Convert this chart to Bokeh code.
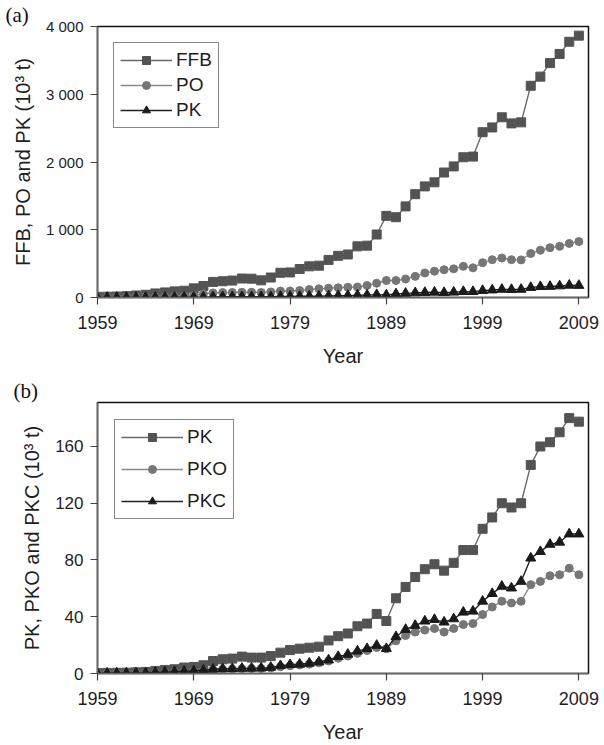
from bokeh.plotting import figure
from bokeh.layouts import column
from bokeh.models import Range1d, FixedTicker
from bokeh.embed import file_html
from bokeh.resources import INLINE

years = list(range(1959, 2010))

ffb = [10, 12, 15, 20, 30, 40, 60, 75, 90, 100, 135, 170, 230, 240, 250, 280, 278, 253, 295, 365,
       370, 420, 460, 470, 555, 615, 635, 755, 765, 930, 1205, 1185, 1345, 1525, 1640, 1700, 1845,
       1935, 2070, 2080, 2440, 2510, 2660, 2570, 2585, 3125, 3260, 3460, 3595, 3775, 3865]
po = [2, 3, 4, 5, 6, 8, 10, 14, 18, 22, 30, 55, 68, 72, 74, 76, 78, 74, 82, 95,
      96, 103, 118, 128, 138, 143, 152, 155, 177, 211, 251, 251, 273, 312, 362, 388, 410,
      423, 460, 438, 514, 558, 583, 558, 555, 649, 698, 735, 755, 798, 826]
pk = [0.3, 0.4, 0.5, 0.6, 0.8, 1.1, 1.8, 2.5, 3.0, 4.2, 4.6, 5.8, 8.8, 10.0, 10.5, 11.9, 11.2, 11.2,
      12.3, 14.7, 16.5, 17.5, 18.2, 18.9, 23.3, 26.3, 28.2, 33.3, 35.2, 42.0, 37.0, 53.0, 61.0,
      68.0, 73.5, 77.0, 72.5, 78.0, 87.0, 87.0, 102.0, 110.0, 120.0, 117.0, 120.0, 147.0, 160.0,
      163.0, 170.0, 180.0, 177.5]
pko = [0.1, 0.15, 0.2, 0.25, 0.3, 0.4, 0.6, 0.8, 1.0, 1.3, 1.6, 2.0, 2.8, 3.0, 3.1, 3.4, 3.5, 3.5,
       3.9, 4.8, 5.5, 6.0, 6.6, 7.5, 8.8, 10.8, 12.3, 14.2, 16.2, 18.3, 17.4, 23.0, 26.8, 29.2,
       30.6, 31.7, 29.2, 31.7, 34.5, 35.2, 41.5, 46.9, 50.9, 49.7, 50.9, 62.6, 64.9, 68.9, 69.6,
       74.2, 69.6]
pkc = [0.2, 0.2, 0.3, 0.3, 0.4, 0.5, 0.8, 1.0, 1.2, 1.5, 1.8, 2.3, 3.0, 3.3, 3.4, 3.6, 3.7, 3.8,
       4.3, 5.5, 6.2, 6.5, 7.2, 8.1, 9.5, 11.9, 13.5, 15.8, 17.5, 19.8, 17.5, 25.9, 31.0, 33.8,
       36.9, 38.0, 36.2, 38.5, 43.2, 43.9, 50.9, 56.3, 61.4, 60.2, 64.9, 81.3, 85.9, 91.0, 92.5,
       98.3, 98.3]

x_ticks = [1959, 1969, 1979, 1989, 1999, 2009]
a_ticks = [0, 1000, 2000, 3000, 4000]
a_tick_labels = ["0", "1 000", "2 000", "3 000", "4 000"]
b_ticks = [0, 40, 80, 120, 160]

FONT = "Liberation Sans"
SQ_COL = "#535353"
CI_COL = "#767676"
TR_COL = "#1a1a1a"


def style(p, yfont):
    p.grid.visible = False
    p.outline_line_color = "#111111"
    p.outline_line_width = 1.5
    for ax in (p.xaxis[0], p.yaxis[0]):
        ax.axis_line_color = "#666666"
        ax.axis_line_width = 1.5
        ax.major_tick_line_color = "#444444"
        ax.major_tick_line_width = 1.2
        ax.major_tick_in = 0
        ax.major_tick_out = 7
        ax.minor_tick_line_color = None
        ax.major_label_text_font = FONT
        ax.major_label_text_color = "#1e1e1e"
        ax.axis_label_text_font = FONT
        ax.axis_label_text_font_style = "normal"
        ax.axis_label_text_color = "#1e1e1e"
        ax.axis_label_text_font_size = "20px"
    p.xaxis.major_label_text_font_size = "18px"
    p.yaxis.major_label_text_font_size = yfont
    p.xaxis.major_label_standoff = 11
    p.yaxis.major_label_standoff = 7
    p.xaxis.axis_label_standoff = 13
    p.yaxis.axis_label_standoff = 9
    p.xaxis.ticker = FixedTicker(ticks=x_ticks)


def set_title(p, text, offset):
    p.title.text = text
    p.title.align = "left"
    p.title.offset = offset
    p.title.standoff = 0
    p.title.text_font = "Liberation Serif"
    p.title.text_font_size = "21px"
    p.title.text_font_style = "normal"
    p.title.text_color = "#111111"


def add_series(p, y, label, marker, size, col, lcol):
    p.line(years, y, line_color=lcol, line_width=1.4, legend_label=label)
    p.scatter(years, y, marker=marker, size=size, fill_color=col, line_color=col,
              legend_label=label)


def style_legend(p, spacing, margin, gw):
    lg = p.legend[0]
    lg.location = "top_left"
    lg.margin = margin
    lg.padding = 6
    lg.spacing = spacing
    lg.glyph_width = gw
    lg.glyph_height = 20
    lg.label_height = 20
    lg.label_standoff = 4
    lg.label_text_font = FONT
    lg.label_text_font_size = "19px"
    lg.label_text_color = "#1e1e1e"
    lg.border_line_color = "#111111"
    lg.border_line_width = 1.5
    lg.background_fill_alpha = 1.0


# ---------- panel (a)
pa = figure(width=604, height=370, output_backend="svg", toolbar_location=None,
            x_range=Range1d(1959, 2010), y_range=Range1d(0, 4000),
            min_border_left=97, min_border_right=16, min_border_top=25, min_border_bottom=73)
style(pa, "15px")
set_title(pa, "(a)", -92)
pa.yaxis.ticker = FixedTicker(ticks=a_ticks)
pa.yaxis.major_label_overrides = {t: s for t, s in zip(a_ticks, a_tick_labels)}
pa.xaxis.axis_label = "Year"
pa.yaxis.axis_label = "FFB, PO and PK (10³ t)"
add_series(pa, ffb, "FFB", "square", 9, SQ_COL, "#6a6a6a")
add_series(pa, po, "PO", "circle", 8, CI_COL, "#8a8a8a")
add_series(pa, pk, "PK", "triangle", 10, TR_COL, "#222222")
style_legend(pa, 3, 16, 52)

# ---------- panel (b)
pb = figure(width=604, height=375, output_backend="svg", toolbar_location=None,
            x_range=Range1d(1959, 2010), y_range=Range1d(0, 191),
            min_border_left=89, min_border_right=12, min_border_top=32, min_border_bottom=71)
style(pb, "17px")
set_title(pb, "(b)", -84)
pb.yaxis.ticker = FixedTicker(ticks=b_ticks)
pb.xaxis.axis_label = "Year"
pb.yaxis.axis_label = "PK, PKO and PKC (10³ t)"
add_series(pb, pk, "PK", "square", 9, SQ_COL, "#6a6a6a")
add_series(pb, pko, "PKO", "circle", 8, CI_COL, "#8a8a8a")
add_series(pb, pkc, "PKC", "triangle", 10, TR_COL, "#222222")
style_legend(pb, 10, 17, 62)

layout = column(pa, pb, spacing=0)
open("out.html", "w").write(file_html(layout, INLINE))
